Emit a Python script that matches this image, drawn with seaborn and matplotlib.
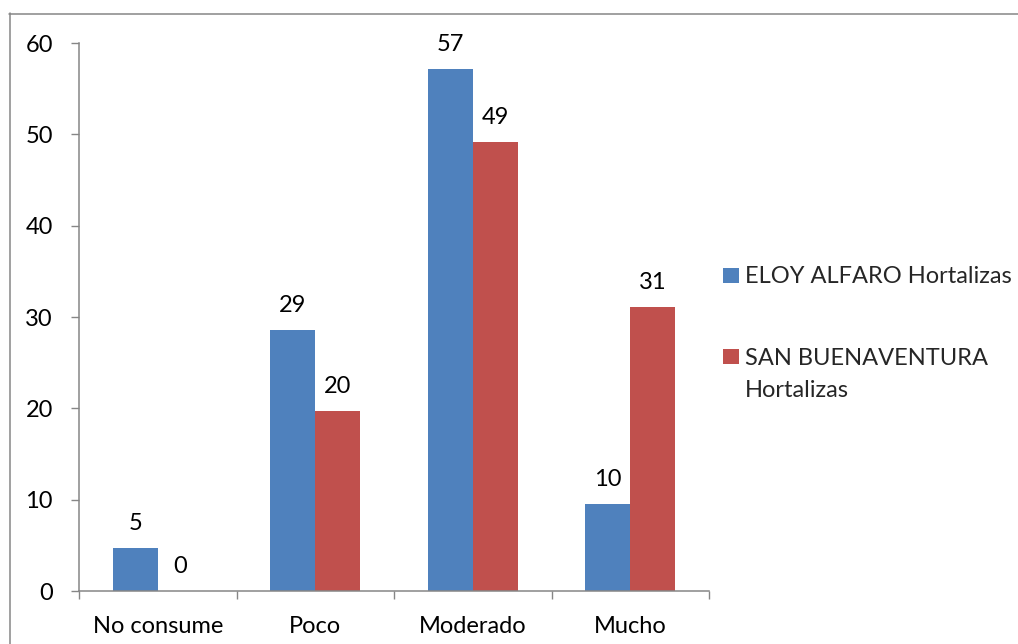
import matplotlib
matplotlib.use("Agg")
import matplotlib.pyplot as plt
import seaborn as sns
import pandas as pd
from matplotlib.lines import Line2D
from matplotlib.patches import Rectangle

# ---- data ----
categories = ["No consume", "Poco", "Moderado", "Mucho"]
series_names = ["ELOY ALFARO Hortalizas", "SAN BUENAVENTURA Hortalizas"]
eloy_values = [4.7, 28.6, 57.2, 9.5]
san_values = [0.0, 19.7, 49.2, 31.1]
y_ticks = [0, 10, 20, 30, 40, 50, 60]
colors = ["#4F81BD", "#C0504D"]

sns.set_theme(style="white")
plt.rcParams["font.family"] = ["Lato", "DejaVu Sans"]

df = pd.DataFrame({
    "cat": categories * 2,
    "serie": [series_names[0]] * len(categories) + [series_names[1]] * len(categories),
    "val": eloy_values + san_values,
})

W, H = 1018, 644
FS = 17
GRAY = "#868686"
fig = plt.figure(figsize=(W / 100, H / 100), dpi=100)
ax = fig.add_axes([79 / W, (H - 591) / H, 630 / W, 548 / H])

sns.barplot(data=df, x="cat", y="val", hue="serie", order=categories,
            hue_order=series_names, palette=colors, width=0.572, ax=ax,
            errorbar=None, legend=False, saturation=1, linewidth=0)

# value labels
for cont in ax.containers:
    for bar in cont:
        h = bar.get_height()
        xc = bar.get_x() + bar.get_width() / 2
        ax.annotate(f"{round(h)}", (xc, h), xytext=(0, 13), textcoords="offset points",
                    ha="center", va="baseline", fontsize=FS, color="black")

ax.set_xlim(-0.5, len(categories) - 0.5)
ax.set_ylim(0, 60)
ax.set_yticks(y_ticks)
ax.set_yticklabels([str(t) for t in y_ticks])
ax.set_xlabel("")
ax.set_ylabel("")
for s in ["top", "right"]:
    ax.spines[s].set_visible(False)
for s in ["left", "bottom"]:
    ax.spines[s].set_color(GRAY)
    ax.spines[s].set_linewidth(1.1)

ax.tick_params(axis="y", which="major", length=5.8, width=1, color=GRAY, direction="out",
               pad=13, labelsize=FS, labelcolor="black", left=True)
ax.set_xticks(range(len(categories)))
ax.set_xticklabels(categories)
ax.set_xticks([i - 0.5 for i in range(len(categories) + 1)], minor=True)
ax.tick_params(axis="x", which="major", length=0, pad=18, labelsize=FS, labelcolor="black")
ax.tick_params(axis="x", which="minor", length=5.8, width=1, color=GRAY, direction="out", bottom=True)

# manual legend
def fx(px):
    return px / W

def fy(py):
    return (H - py) / H

fig.add_artist(Rectangle((fx(723), fy(283)), 16 / W, 15 / H, transform=fig.transFigure,
                         facecolor=colors[0], edgecolor="none"))
fig.text(fx(745), fy(283), "ELOY ALFARO Hortalizas", fontsize=FS, va="baseline", ha="left")
fig.add_artist(Rectangle((fx(723), fy(364)), 16 / W, 15 / H, transform=fig.transFigure,
                         facecolor=colors[1], edgecolor="none"))
fig.text(fx(745), fy(365), "SAN BUENAVENTURA", fontsize=FS, va="baseline", ha="left")
fig.text(fx(745), fy(397), "Hortalizas", fontsize=FS, va="baseline", ha="left")

# chart-area border (top and left visible)
fig.add_artist(Line2D([fx(9), fx(1030)], [fy(13.5), fy(13.5)], transform=fig.transFigure,
                      color=GRAY, lw=1.1))
fig.add_artist(Line2D([fx(9.5), fx(9.5)], [fy(13), fy(660)], transform=fig.transFigure,
                      color=GRAY, lw=1.1))

fig.savefig("out.png", dpi=100)
